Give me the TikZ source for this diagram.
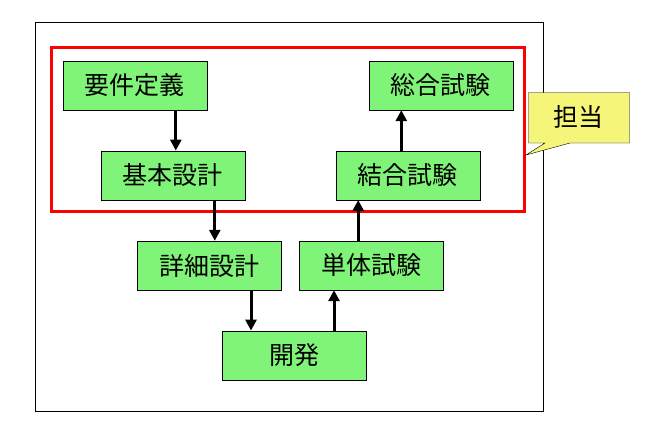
\documentclass[tikz,border=0pt]{standalone}
\usepackage{fontspec}
\usepackage{tikz}
\usetikzlibrary{arrows.meta}
\newfontfamily\jp{Noto Sans CJK JP}
\definecolor{boxgreen}{RGB}{128,244,120}
\definecolor{noteyellow}{RGB}{245,245,122}

\begin{document}
\begin{tikzpicture}[x=1pt,y=-1pt,
		proc/.style={draw, thin, fill=boxgreen, minimum width=144pt, minimum height=49pt, inner sep=0pt, font=\jp\fontsize{25}{30}\selectfont},
		arr/.style={line width=3pt, -{Triangle[width=11pt,length=11pt]}}]
			\useasboundingbox (0,0) rectangle (647,431);
			\draw[thin] (35.5,22.5) rectangle (543.5,411.5);
			\draw[red, line width=3pt] (51,47.5) rectangle (524,211);

			\node[proc] (youken) at (134.8,85.5) {要件定義};
			\node[proc] (kihon) at (172.8,175.3) {基本設計};
			\node[proc] (shousai) at (209,265.5) {詳細設計};
			\node[proc] (kaihatsu) at (294,355.3) {開発};
			\node[proc] (tantai) at (371.2,265.5) {単体試験};
			\node[proc] (ketsugou) at (407.8,175.3) {結合試験};
			\node[proc] (sougou) at (440.8,85.5) {総合試験};

			\draw[arr] ([xshift=41pt]youken.south) -- ([xshift=41pt]youken.south |- kihon.north);
			\draw[arr] ([xshift=42pt]kihon.south) -- ([xshift=42pt]kihon.south |- shousai.north);
			\draw[arr] ([xshift=42pt]shousai.south) -- ([xshift=42pt]shousai.south |- kaihatsu.north);
			\draw[arr] ([xshift=40pt]kaihatsu.north) -- ([xshift=40pt]kaihatsu.north |- tantai.south);
			\draw[arr] ([xshift=-13pt]tantai.north) -- ([xshift=-13pt]tantai.north |- ketsugou.south);
			\draw[arr] ([xshift=-6.5pt]ketsugou.north) -- ([xshift=-6.5pt]ketsugou.north |- sougou.south);

			\draw[thin, fill=noteyellow] (528.5,92.5)--(629.5,92.5)--(629.5,143)--(570,143)--(526,155)--(545,143)--(528.5,143)--cycle;
			\node[font=\jp\fontsize{25}{30}\selectfont] (tantou) at (578.5,117) {担当};
		\end{tikzpicture}
\end{document}
